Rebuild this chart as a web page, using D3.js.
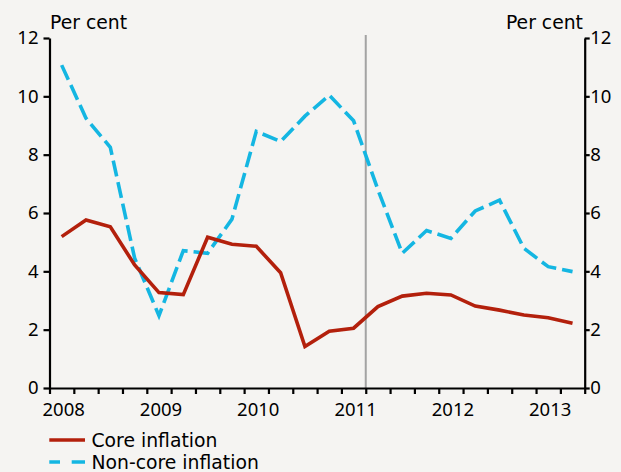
<!DOCTYPE html>
<html>
<head>
<meta charset="utf-8">
<script src="https://cdn.jsdelivr.net/npm/d3@7"></script>
<style>
  html, body { margin: 0; padding: 0; background: #f5f4f2; }
  svg { display: block; }
</style>
</head>
<body>
<svg id="chart" width="621" height="472"></svg>
<script>
// ---- data ----
const quarters = [
  "2008Q1","2008Q2","2008Q3","2008Q4",
  "2009Q1","2009Q2","2009Q3","2009Q4",
  "2010Q1","2010Q2","2010Q3","2010Q4",
  "2011Q1","2011Q2","2011Q3","2011Q4",
  "2012Q1","2012Q2","2012Q3","2012Q4",
  "2013Q1","2013Q2"
];
const coreInflation = [5.19, 5.76, 5.53, 4.22, 3.27, 3.20, 5.17, 4.93, 4.86, 3.95, 1.42,
                       1.95, 2.05, 2.79, 3.15, 3.25, 3.19, 2.81, 2.67, 2.50, 2.41, 2.22];
const nonCoreInflation = [11.07, 9.25, 8.25, 4.45, 2.48, 4.71, 4.62, 5.79, 8.80, 8.45, 9.32,
                          10.04, 9.16, 6.80, 4.62, 5.40, 5.13, 6.07, 6.44, 4.79, 4.16, 3.99];
const yearLabels = ["2008", "2009", "2010", "2011", "2012", "2013"];
const yTicks = [0, 2, 4, 6, 8, 10, 12];
const seriesNames = ["Core inflation", "Non-core inflation"];
const unitLabel = "Per cent";
const markerQuarter = "2011Q2"; // vertical line at start of this quarter

// ---- layout ----
const svg = d3.select("#chart");
const plotL = 49.5, plotR = 584.7, plotT = 38, plotB = 388;
const nQ = 22;
const x = d3.scaleLinear().domain([0, nQ]).range([plotL, plotR]);
const y = d3.scaleLinear().domain([0, 12]).range([plotB, plotT]);
const numFont = "'Noto Sans', 'Open Sans', sans-serif";
const txtFont = "'DejaVu Sans', Verdana, sans-serif";
const red = "#b3200c", blue = "#14b6e2";

svg.append("rect").attr("width", 621).attr("height", 472).attr("fill", "#f5f4f2");

// vertical marker line
const mi = quarters.indexOf(markerQuarter);
svg.append("line")
  .attr("x1", x(mi)).attr("x2", x(mi))
  .attr("y1", 35).attr("y2", plotB)
  .attr("stroke", "#a3a3a3").attr("stroke-width", 2);

// series
const line = d3.line().x((d, i) => x(i + 0.5)).y(d => y(d));
svg.append("path").datum(nonCoreInflation)
  .attr("d", line).attr("fill", "none")
  .attr("stroke", blue).attr("stroke-width", 3.6)
  .attr("stroke-dasharray", "16,6").attr("stroke-linejoin", "miter");
svg.append("path").datum(coreInflation)
  .attr("d", line).attr("fill", "none")
  .attr("stroke", red).attr("stroke-width", 3.6)
  .attr("stroke-linejoin", "miter");

// axes
const axisStyle = g => {
  g.select(".domain").attr("stroke", "#000").attr("stroke-width", 2.2);
  g.selectAll(".tick line").attr("stroke", "#000").attr("stroke-width", 2.2);
  g.selectAll("text").attr("fill", "#000").style("font-family", numFont).style("font-size", "18.5px");
};

const yLeft = d3.axisLeft(y).tickValues(yTicks).tickSize(6).tickSizeOuter(0).tickPadding(5);
svg.append("g").attr("transform", `translate(${plotL},0)`).call(yLeft).call(axisStyle);

const yRight = d3.axisRight(y).tickValues(yTicks).tickSize(5).tickSizeOuter(0).tickPadding(1);
svg.append("g").attr("transform", `translate(${plotR},0)`).call(yRight).call(axisStyle)
  .selectAll("text").attr("x", 5.5);

const xAxis = d3.axisBottom(x).tickValues(d3.range(0, nQ + 1)).tickSize(6)
  .tickSizeOuter(0).tickFormat("");
svg.append("g").attr("transform", `translate(0,${plotB})`).call(xAxis).call(axisStyle);

// year labels
svg.append("g").selectAll("text").data(yearLabels).join("text")
  .attr("x", (d, k) => x(k * 4 + 0.5) + 2)
  .attr("y", 416)
  .attr("text-anchor", "middle")
  .style("font-family", numFont).style("font-size", "18.5px")
  .text(d => d);

// unit labels
svg.append("text").attr("x", 50).attr("y", 29)
  .style("font-family", txtFont).style("font-size", "18.8px").text(unitLabel);
svg.append("text").attr("x", 583).attr("y", 29).attr("text-anchor", "end")
  .style("font-family", txtFont).style("font-size", "18.8px").text(unitLabel);

// legend
const legend = svg.append("g");
legend.append("line").attr("x1", 49.3).attr("x2", 85).attr("y1", 440).attr("y2", 440)
  .attr("stroke", red).attr("stroke-width", 3.6);
legend.append("text").attr("x", 91.5).attr("y", 446.7)
  .style("font-family", txtFont).style("font-size", "18.8px").text(seriesNames[0]);
legend.append("line").attr("x1", 49.3).attr("x2", 85).attr("y1", 462).attr("y2", 462)
  .attr("stroke", blue).attr("stroke-width", 3.6).attr("stroke-dasharray", "10.7,11.7,14");
legend.append("text").attr("x", 91.5).attr("y", 469)
  .style("font-family", txtFont).style("font-size", "18.8px").text(seriesNames[1]);
</script>
</body>
</html>
